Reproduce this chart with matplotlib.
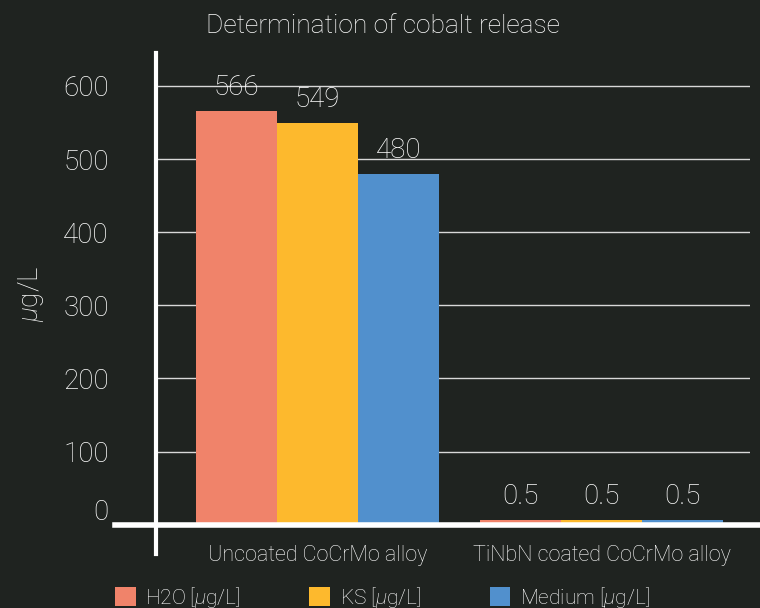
"""Cobalt release bar chart (dark theme), recreated with matplotlib."""

import matplotlib

matplotlib.use("Agg")
import matplotlib.pyplot as plt
import numpy as np
from matplotlib.transforms import blended_transform_factory

categories = ["Uncoated CoCrMo alloy", "TiNbN coated CoCrMo alloy"]
series = ["H2O [$\\mu$g/L]", "KS [$\\mu$g/L]", "Medium [$\\mu$g/L]"]
values = {
    "H2O": [566, 0.5],
    "KS": [549, 0.5],
    "Medium": [480, 0.5],
}
value_labels = {
    "H2O": ["566", "0.5"],
    "KS": ["549", "0.5"],
    "Medium": ["480", "0.5"],
}
yticks = [0, 100, 200, 300, 400, 500, 600]

BG = "#1f2320"
COLORS = ["#f0836a", "#fdb92d", "#5190cd"]
MIN_VISIBLE = 7  # tiny values still get a visible sliver, like the original

plt.rcParams["font.family"] = ["Roboto", "DejaVu Sans"]
plt.rcParams["font.weight"] = "light"
plt.rcParams["axes.labelweight"] = "light"
plt.rcParams["mathtext.fontset"] = "custom"
plt.rcParams["mathtext.rm"] = "Roboto:light"
plt.rcParams["mathtext.it"] = "Roboto:italic:light"
plt.rcParams["mathtext.default"] = "it"

W, H = 760, 608
fig = plt.figure(figsize=(W / 100, H / 100), dpi=100, facecolor=BG)
# axes box in pixels: x 156..750, y 53..554
ax = fig.add_axes([156 / W, 1 - 554 / H, (750 - 156) / W, (554 - 53) / H])
ax.set_facecolor(BG)

x = np.arange(len(categories))
width = 0.285
offsets = [-width, 0, width]
bars = []
for (name, vals), off, color, lab in zip(values.items(), offsets, COLORS, series):
    heights = [max(v, MIN_VISIBLE) for v in vals]
    b = ax.bar(x + off, heights, width=width, color=color, label=lab, zorder=2)
    bars.append(b)
    for xi, h, txt in zip(x + off, heights, value_labels[name]):
        ax.annotate(txt, (xi, h), xytext=(0, 10), textcoords="offset pixels",
                    ha="center", va="bottom", color="white", fontsize=20)

ax.set_xlim(-0.569, 1.523)
ax.set_ylim(-40, 645)
ax.set_yticks(yticks)
ax.set_yticklabels([""] + [str(t) for t in yticks[1:]])
ax.tick_params(axis="y", length=0, pad=34, labelsize=20, labelcolor="white")
ax.set_xticks([])
ax.grid(axis="y", color="#d8d8d8", lw=1, zorder=1)
ax.text(-0.08, 17, "0", transform=blended_transform_factory(ax.transAxes, ax.transData),
        ha="right", va="center", color="white", fontsize=20)

for side in ["top", "right", "bottom"]:
    ax.spines[side].set_visible(False)
ax.spines["left"].set_color("white")
ax.spines["left"].set_linewidth(3)
ax.axhline(0, xmin=-0.069, xmax=1.02, color="white", lw=4, clip_on=False, zorder=3)

for xi, cat in zip(x, categories):
    ax.annotate(cat, (xi, 0), xytext=(0, -31), textcoords="offset pixels",
                ha="center", va="center", color="white", fontsize=15.5)

ax.set_ylabel("$\\mu$g/L", color="white", fontsize=20, fontweight="light")
ax.yaxis.set_label_coords(-0.185, 0.52)

fig.text(383 / W, 1 - 26 / H, "Determination of cobalt release", ha="center",
         va="center", color="white", fontsize=19)

fig.legend(handles=bars, loc="center left", bbox_to_anchor=(115 / W, 1 - 597 / H),
           ncol=3, frameon=False, fontsize=15, labelcolor="white",
           handlelength=1.0, handleheight=1.0, handletextpad=0.45,
           columnspacing=3.3, borderpad=0, borderaxespad=0)

fig.savefig("out.png", dpi=100, facecolor=BG)
